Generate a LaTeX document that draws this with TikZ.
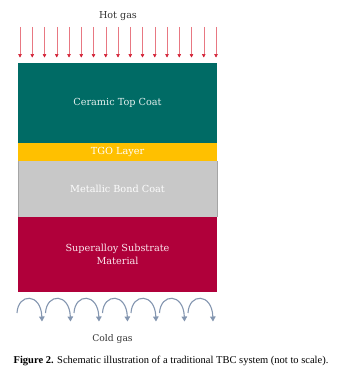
\documentclass[tikz,border=0pt]{standalone}
\usepackage{fontspec}
\setmainfont{Liberation Serif}
\newfontfamily\dvs{DejaVu Serif}
\usetikzlibrary{arrows.meta}
\definecolor{teal1}{RGB}{0,107,101}
\definecolor{tgoY}{RGB}{255,192,0}
\definecolor{bondG}{RGB}{200,200,200}
\definecolor{bondB}{RGB}{165,165,165}
\definecolor{subR}{RGB}{176,0,58}
\definecolor{hotR}{RGB}{210,30,50}
\definecolor{hotL}{RGB}{232,120,130}
\definecolor{coldB}{RGB}{132,150,176}
\definecolor{txtL}{RGB}{228,240,238}
\definecolor{txtP}{RGB}{250,228,236}
\tikzset{
  layer/.style={draw=none, minimum width=199pt, inner sep=0pt, outer sep=0pt, font=\dvs\fontsize{9.7}{12}\selectfont, align=center},
  hotarrow/.style={draw=hotL, line width=0.45pt, -{Triangle[width=3.4pt,length=3.4pt,color=hotR,fill=hotR]}},
  coldarrow/.style={draw=coldB, line width=1.1pt, -{Triangle[width=5.5pt,length=5pt]}},
  lbl/.style={font=\dvs\fontsize{9.6}{12}\selectfont, text=black!80, inner sep=0pt}
}
\begin{document}
\begin{tikzpicture}[x=1pt,y=-1pt]
\useasboundingbox (0,0) rectangle (342,374);
\node[layer, fill=teal1, minimum height=80pt, text=txtL] (top) at (117.5,103) {Ceramic Top Coat};
\node[layer, fill=tgoY, minimum height=18pt, text=white] (tgo) at (117.5,152) {TGO Layer};
\node[layer, fill=bondG, minimum height=56pt, text=white!96!bondG] (bond) at (117.5,189) {Metallic Bond Coat};
\draw[bondB, line width=0.6pt] (bond.north west) -- (bond.south west);
\draw[bondB, line width=0.4pt] (bond.north east) -- (bond.south east);
\node[layer, fill=subR, minimum height=75pt, text=txtP, font=\dvs\fontsize{9.7}{12.5}\selectfont] (sub) at (117.5,254.5) {Superalloy Substrate\\Material};
\node[lbl] (hot) at (118,16) {Hot gas};
\foreach \i in {0,...,16}{
  \coordinate (hs\i) at ({20+12.25*\i},27);
  \coordinate (he\i) at ({20+12.25*\i},57.5);
  \draw[hotarrow] (hs\i) -- (he\i);
}
\foreach \i in {0,...,6}{
  \coordinate (cs\i) at ({17+28.5*\i},313);
  \coordinate (ce\i) at ({42+28.5*\i},321.5);
  \draw[coldarrow] (cs\i) .. controls ++(1,-20) and ++(-1,-29) .. (ce\i);
}
\node[lbl, font=\dvs\fontsize{9.2}{12}\selectfont] (cold) at (112.5,339.5) {Cold gas};
\node[inner sep=0pt, font=\fontsize{10.5}{12}\selectfont] (cap) at (171,361) {\textbf{Figure 2.} Schematic illustration of a traditional TBC system (not to scale).};
\end{tikzpicture}
\end{document}
